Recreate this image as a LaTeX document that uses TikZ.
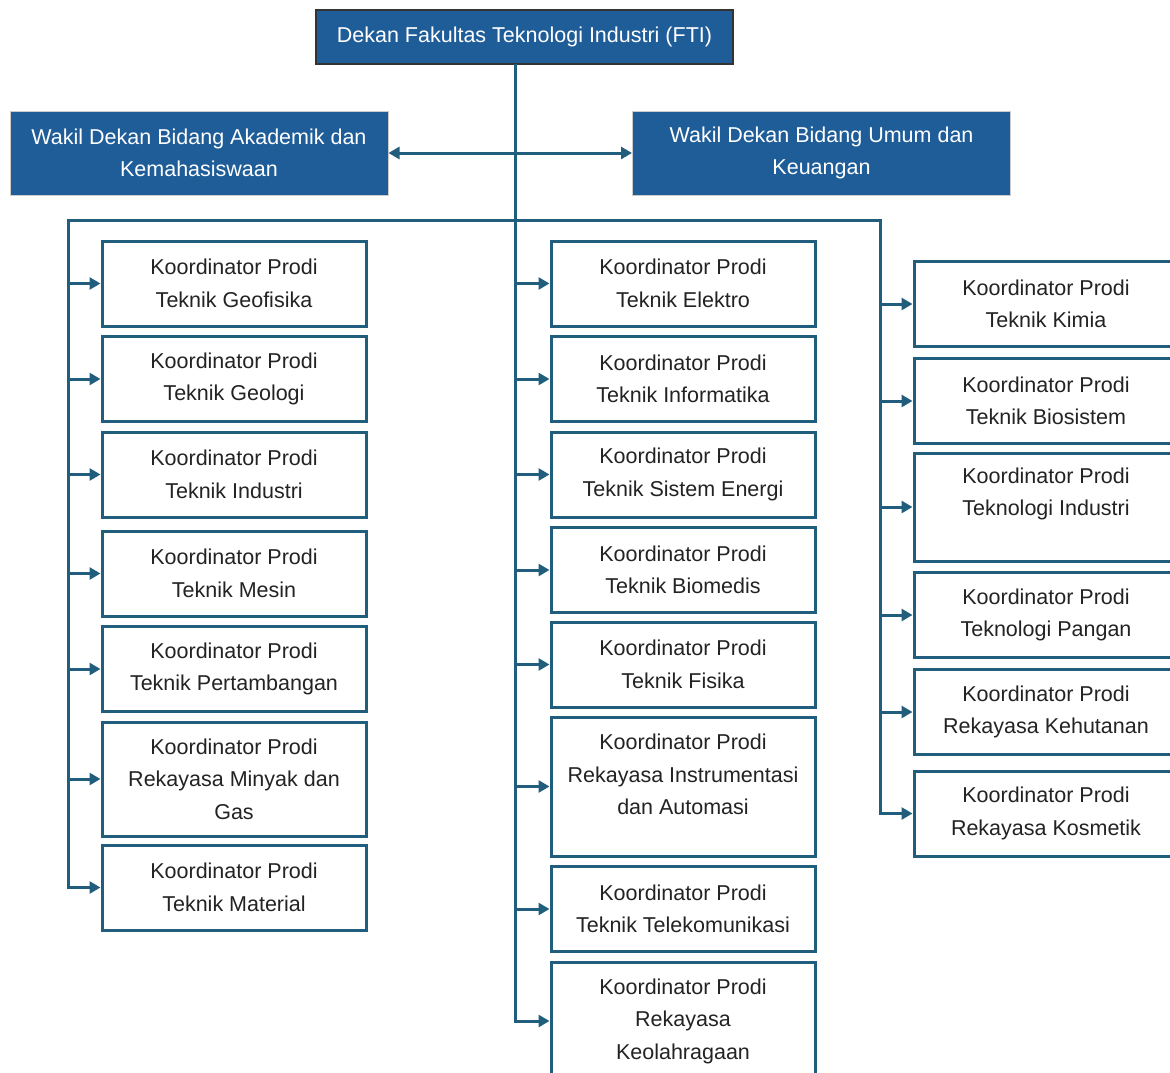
\documentclass[tikz,border=0pt]{standalone}
\usepackage{fontspec}
\setmainfont{Liberation Sans}
\usetikzlibrary{arrows.meta,positioning}
\definecolor{ftiblue}{RGB}{31,93,153}
\definecolor{ftiline}{RGB}{33,94,125}
\definecolor{ftitext}{RGB}{35,35,35}

\begin{document}
\begin{tikzpicture}[x=1pt, y=-1pt, >={Triangle[length=11pt,width=12pt]},
    conn/.style={draw=ftiline, line width=3pt, ->},
    head node/.style={rectangle, fill=ftiblue, draw=black!80, line width=1.5pt, text=white, align=center, minimum width=417pt, minimum height=54pt},
    wakil node/.style={rectangle, fill=ftiblue, draw=black!20, line width=1pt, text=white, align=center, minimum width=378pt, minimum height=84pt},
    prodi node/.style={rectangle, fill=white, draw=ftiline, line width=3pt, text=ftitext, align=center, minimum width=264pt, minimum height=85pt}]
  \tikzstyle{every node}=[font=\fontsize{21.5}{32.5}\selectfont]
  \useasboundingbox (0,0) rectangle (1170,1073);
  \clip (0,0) rectangle (1170,1073);

  % pimpinan
  \node[head node] (dekan) at (524.5,37) {Dekan Fakultas Teknologi Industri (FTI)};
  \node[wakil node] (akademik) at (199,153) {Wakil Dekan Bidang Akademik dan\\Kemahasiswaan};
  \node[wakil node] (umum) at (821.5,153) {Wakil Dekan Bidang Umum dan\\Keuangan};

  % kolom kiri
  \node[prodi node] (geofisika) at (234,283.5) {Koordinator Prodi\\Teknik Geofisika};
  \node[prodi node] (geologi) at (234,379) {Koordinator Prodi\\Teknik Geologi};
  \node[prodi node] (industri) at (234,474.5) {Koordinator Prodi\\Teknik Industri};
  \node[prodi node] (mesin) at (234,573.5) {Koordinator Prodi\\Teknik Mesin};
  \node[prodi node] (tambang) at (234,669) {Koordinator Prodi\\Teknik Pertambangan};
  \node[prodi node, minimum height=114pt] (migas) at (234,779) {Koordinator Prodi\\Rekayasa Minyak dan\\Gas};
  \node[prodi node] (material) at (234,887.5) {Koordinator Prodi\\Teknik Material};

  % kolom tengah
  \node[prodi node] (elektro) at (683,283.5) {Koordinator Prodi\\Teknik Elektro};
  \node[prodi node] (informatika) at (683,379) {Koordinator Prodi\\Teknik Informatika};
  \node[prodi node] (energi) at (683,474.5) {Koordinator Prodi\\Teknik Sistem Energi};
  \node[prodi node] (biomedis) at (683,570) {Koordinator Prodi\\Teknik Biomedis};
  \node[prodi node] (fisika) at (683,664.5) {Koordinator Prodi\\Teknik Fisika};
  \node[prodi node, minimum height=139pt] (instrumentasi) at (683,786.5) {Koordinator Prodi\\Rekayasa Instrumentasi\\dan Automasi\\[-18pt]\strut};
  \node[prodi node] (telekom) at (683,909) {Koordinator Prodi\\Teknik Telekomunikasi};
  \node[prodi node, minimum height=118pt] (olahraga) at (683,1021) {Koordinator Prodi\\Rekayasa\\Keolahragaan};

  % kolom kanan
  \node[prodi node] (kimia) at (1046,304) {Koordinator Prodi\\Teknik Kimia};
  \node[prodi node] (biosistem) at (1046,401) {Koordinator Prodi\\Teknik Biosistem};
  \node[prodi node, minimum height=108pt] (tekind) at (1046,507) {Koordinator Prodi\\Teknologi Industri\\[-12pt]\strut};
  \node[prodi node] (pangan) at (1046,615) {Koordinator Prodi\\Teknologi Pangan};
  \node[prodi node] (kehutanan) at (1046,712) {Koordinator Prodi\\Rekayasa Kehutanan};
  \node[prodi node] (kosmetik) at (1046,813.5) {Koordinator Prodi\\Rekayasa Kosmetik};

  % garis
  \coordinate (trunk) at (515,64);
  \coordinate (lbus) at (68,220);
  \coordinate (rbus) at (880,220);
  \draw[ftiline, line width=3pt, line cap=rect] (lbus) -- (rbus);
  \draw[conn, <->] (akademik) -- (umum);

  \foreach \n in {elektro, informatika, energi, biomedis, fisika, instrumentasi, telekom, olahraga}
    \draw[conn] (trunk) |- (\n);
  \foreach \n in {geofisika, geologi, industri, mesin, tambang, migas, material}
    \draw[conn] (lbus) |- (\n);
  \foreach \n in {kimia, biosistem, tekind, pangan, kehutanan, kosmetik}
    \draw[conn] (rbus) |- (\n);
\end{tikzpicture}
\end{document}
